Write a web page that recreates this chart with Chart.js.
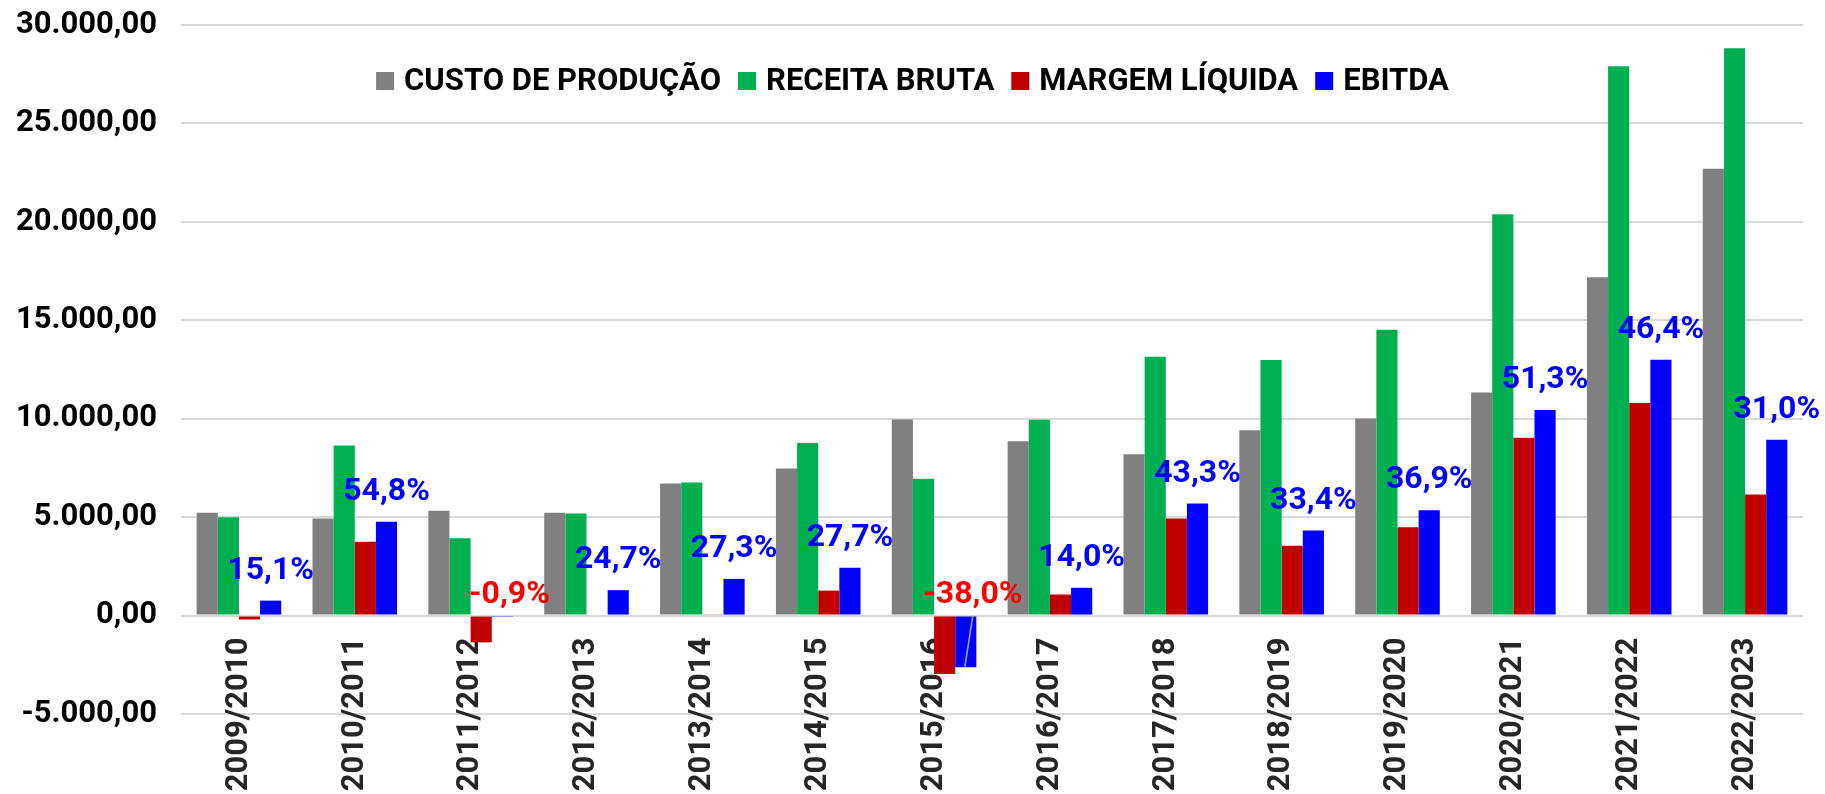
<!DOCTYPE html>
<html>
<head>
<meta charset="utf-8">
<script src="https://cdn.jsdelivr.net/npm/chart.js@4.4.0/dist/chart.umd.min.js"></script>
<style>
  html, body { margin: 0; padding: 0; background: #fff; }
</style>
</head>
<body>
<canvas id="grafico" width="1825" height="794"></canvas>
<script>
//---dados (R$/ha)---
const safras = ['2009/2010', '2010/2011', '2011/2012', '2012/2013', '2013/2014', '2014/2015', '2015/2016',
  '2016/2017', '2017/2018', '2018/2019', '2019/2020', '2020/2021', '2021/2022', '2022/2023'];
const custoProducao = [5220, 4930, 5320, 5220, 6710, 7470, 9960, 8860, 8200, 9420, 10015, 11335, 17180, 22700];
const receitaBruta = [5000, 8640, 3930, 5185, 6760, 8760, 6950, 9950, 13150, 12980, 14525, 20385, 27905, 28820];
const margemLiquida = [-200, 3745, -1360, 0, 40, 1270, -2965, 1070, 4930, 3545, 4490, 9035, 10795, 6150];
const ebitda = [760, 4760, -35, 1290, 1865, 2425, -2630, 1410, 5690, 4320, 5355, 10440, 12990, 8935];
const margemEbitda = ['15,1%', '54,8%', '-0,9%', '24,7%', '27,3%', '27,7%', '-38,0%', '14,0%', '43,3%',
  '33,4%', '36,9%', '51,3%', '46,4%', '31,0%'];
const nomesSeries = ['CUSTO DE PRODUÇÃO', 'RECEITA BRUTA', 'MARGEM LÍQUIDA', 'EBITDA'];
const coresSeries = ['#808080', '#00B050', '#C00000', '#0000FF'];

//-------------------Funcoes-------------------
function formatarBR(v) { //30000 -> "30.000,00"
  const s = Math.abs(v).toFixed(0).replace(/\B(?=(\d{3})+(?!\d))/g, '.');
  return (v < 0 ? '-' : '') + s + ',00';
}

// legenda desenhada dentro da area do grafico, centralizada
const legendaPlugin = {
  id: 'legenda',
  afterDraw(chart) {
    const ctx = chart.ctx;
    ctx.save();
    ctx.font = 'bold 31px Roboto';
    ctx.textBaseline = 'middle';
    const box = 18, gap = 10, space = 17;
    const items = chart.data.datasets.map(ds => ({ text: ds.label, color: ds.backgroundColor, w: ctx.measureText(ds.label).width }));
    const total = items.reduce((s, it) => s + box + gap + it.w, 0) + space * (items.length - 1);
    let x = chart.width / 2 - total / 2;
    const y = 81;
    items.forEach(it => {
      ctx.fillStyle = it.color;
      ctx.fillRect(x, y - box / 2, box, box);
      x += box + gap;
      ctx.fillStyle = '#000';
      ctx.fillText(it.text, x, y + 1);
      x += it.w + space;
    });
    ctx.restore();
  }
};

// rotulos da margem EBITDA sobre as barras azuis
const rotulosPlugin = {
  id: 'rotulos',
  afterDatasetsDraw(chart) {
    const ctx = chart.ctx;
    const meta = chart.getDatasetMeta(3);
    const zero = chart.scales.y.getPixelForValue(0);
    ctx.save();
    ctx.font = 'bold 32px Roboto';
    ctx.textAlign = 'center';
    ctx.textBaseline = 'middle';
    meta.data.forEach((bar, i) => {
      const neg = ebitda[i] < 0;
      const x = neg ? bar.x + 7 : bar.x;
      const y = neg ? zero - 21 : bar.y - 30;
      if (neg && bar.y - zero > 20) { //linha de chamada
        ctx.strokeStyle = '#A6A6A6';
        ctx.lineWidth = 1.5;
        ctx.beginPath();
        ctx.moveTo(x, zero);
        ctx.lineTo(bar.x - 1, bar.y);
        ctx.stroke();
      }
      ctx.fillStyle = neg ? '#FF0000' : '#0000FF';
      ctx.fillText(margemEbitda[i], x, y);
    });
    ctx.restore();
  }
};

//-------------------Grafico-------------------
const series = [custoProducao, receitaBruta, margemLiquida, ebitda];

new Chart(document.getElementById('grafico'), {
  type: 'bar',
  data: {
    labels: safras,
    datasets: series.map((d, i) => ({
      label: nomesSeries[i],
      data: d,
      backgroundColor: coresSeries[i],
      borderWidth: 0
    }))
  },
  options: {
    responsive: false,
    animation: false,
    devicePixelRatio: 1,
    layout: { padding: { top: 25, right: 22, bottom: 80, left: 0 } },
    datasets: { bar: { categoryPercentage: 0.73, barPercentage: 1 } },
    plugins: {
      legend: { display: false },
      tooltip: { enabled: false }
    },
    scales: {
      x: {
        position: { y: 0 },
        grid: { display: false, drawTicks: false },
        border: { display: false },
        ticks: {
          autoSkip: false,
          minRotation: 90,
          maxRotation: 90,
          padding: 22,
          color: '#262626',
          font: { family: 'Roboto', weight: 'bold', size: 31 }
        }
      },
      y: {
        min: -5000,
        max: 30000,
        afterFit: (scale) => {
          scale.width = 181;
          scale.paddingTop = 0;
          scale.paddingBottom = 0;
        },
        grid: { color: '#D9D9D9', lineWidth: 2, drawTicks: false },
        border: { display: false },
        ticks: {
          stepSize: 5000,
          padding: 24,
          color: '#000',
          font: { family: 'Roboto', weight: 'bold', size: 31 },
          callback: (v) => formatarBR(v)
        }
      }
    }
  },
  plugins: [rotulosPlugin, legendaPlugin]
});
</script>
</body>
</html>
